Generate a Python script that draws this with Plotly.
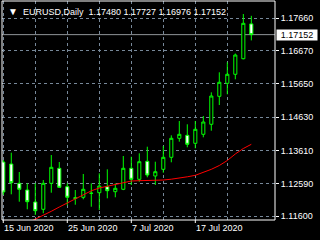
import plotly.graph_objects as go

dates = ["2020-06-15", "2020-06-16", "2020-06-17", "2020-06-18", "2020-06-19",
         "2020-06-22", "2020-06-23", "2020-06-24", "2020-06-25", "2020-06-26",
         "2020-06-29", "2020-06-30", "2020-07-01", "2020-07-02", "2020-07-03",
         "2020-07-06", "2020-07-07", "2020-07-08", "2020-07-09", "2020-07-10",
         "2020-07-13", "2020-07-14", "2020-07-15", "2020-07-16", "2020-07-17",
         "2020-07-20", "2020-07-21", "2020-07-22", "2020-07-23", "2020-07-24",
         "2020-07-27", "2020-07-28"]

opens = [1.13259, 1.13198, 1.12608, 1.12404, 1.12037, 1.11814, 1.12608, 1.13067,
         1.12505, 1.12144, 1.12181, 1.12300, 1.12321, 1.12505, 1.12352, 1.12425,
         1.13067, 1.12731, 1.13281, 1.12832, 1.13036, 1.13403, 1.13984, 1.14075,
         1.13831, 1.14106, 1.14412, 1.15267, 1.15664, 1.15940, 1.16416, 1.17480]
highs = [1.13321, 1.13544, 1.12954, 1.12608, 1.12608, 1.12709, 1.13473, 1.13259,
         1.12608, 1.12404, 1.12893, 1.12608, 1.12914, 1.13036, 1.12608, 1.13443,
         1.13421, 1.13525, 1.13727, 1.13269, 1.13748, 1.14075, 1.14512, 1.14412,
         1.14512, 1.14665, 1.15389, 1.16001, 1.16306, 1.16575, 1.17782, 1.17727]
lows = [1.12251, 1.12272, 1.12046, 1.11814, 1.11640, 1.11692, 1.12321, 1.12465,
        1.11936, 1.11954, 1.12120, 1.11893, 1.11793, 1.12150, 1.12181, 1.12400,
        1.12557, 1.12657, 1.12792, 1.12557, 1.12932, 1.13250, 1.13880, 1.13709,
        1.13678, 1.14014, 1.14216, 1.15001, 1.15328, 1.15787, 1.16398, 1.16976]
closes = [1.12343, 1.12627, 1.12425, 1.12046, 1.11771, 1.12608, 1.13097, 1.12486,
          1.12181, 1.12165, 1.12425, 1.12305, 1.12526, 1.12382, 1.12456, 1.13067,
          1.12731, 1.13269, 1.12862, 1.12963, 1.13403, 1.13984, 1.14106, 1.13800,
          1.14259, 1.14482, 1.15276, 1.15695, 1.15940, 1.16529, 1.17498, 1.17152]

ma = [None, None, None, 1.11395, 1.11508, 1.11624, 1.11753, 1.11884,
      1.12006, 1.12129, 1.12266, 1.12379, 1.12465, 1.12517, 1.12563, 1.12618,
      1.12679, 1.12688, 1.12688, 1.12694, 1.12709, 1.12734, 1.12761, 1.12807,
      1.12853, 1.12939, 1.13036, 1.13152, 1.13305, 1.13504, 1.13672, 1.13800]

y_ticks = [1.11600, 1.12590, 1.13610, 1.14630, 1.15650, 1.16670, 1.17660]
label_dates = ["2020-06-15", "2020-06-25", "2020-07-07", "2020-07-17"]
label_texts = ["15 Jun 2020", "25 Jun 2020", "7 Jul 2020", "17 Jul 2020"]
grid_dates = dates[::4]

FONT = "Liberation Sans, Arial, sans-serif"
GRID = "#778899"

fig = go.Figure()
fig.add_trace(go.Candlestick(
    x=dates, open=opens, high=highs, low=lows, close=closes,
    increasing=dict(line=dict(color="#00ff00", width=1), fillcolor="#000000"),
    decreasing=dict(line=dict(color="#00ff00", width=1), fillcolor="#ffffff"),
    whiskerwidth=0, showlegend=False, hoverinfo="skip",
))
fig.add_trace(go.Scatter(
    x=dates, y=ma, mode="lines", line=dict(color="#ff0000", width=1),
    showlegend=False, hoverinfo="skip", connectgaps=False,
))

shapes = [
    dict(type="line", xref="paper", x0=0, x1=1, yref="y", y0=closes[-1], y1=closes[-1],
         line=dict(color="#8f9499", width=1), layer="between"),
    dict(type="rect", xref="paper", yref="paper", x0=0, x1=1, y0=0, y1=1,
         line=dict(color="#ffffff", width=1), layer="above"),
]
for d in label_dates:
    shapes.append(dict(type="line", xref="x", x0=d, x1=d, yref="paper", y0=0, y1=-3 / 219,
                       line=dict(color="#ffffff", width=1)))

annotations = []
for d, t in zip(label_dates, label_texts):
    annotations.append(dict(x=d, xref="x", y=0, yref="paper", text=t, showarrow=False,
                            xanchor="left", yanchor="top", xshift=-1, yshift=-1,
                            font=dict(family=FONT, size=9, color="#ffffff")))

title = ('<span style="font-size:10px">▼</span>\u00a0 EURUSD,Daily\u00a0\u00a0'
         f"{opens[-1]:.5f} {highs[-1]:.5f} {lows[-1]:.5f} {closes[-1]:.5f}")
annotations.append(dict(x=0, xref="paper", y=1, yref="paper", text=title, showarrow=False,
                        xanchor="left", yanchor="top", xshift=4, yshift=-3,
                        font=dict(family=FONT, size=9, color="#ffffff")))
annotations.append(dict(x=1, xref="paper", y=closes[-1], yref="y", text=f"{closes[-1]:.5f}",
                        showarrow=False, xanchor="left", yanchor="middle", xshift=1,
                        bgcolor="#ffffff", width=40, height=10, borderpad=0,
                        font=dict(family=FONT, size=9, color="#000000")))

fig.update_layout(
    width=320, height=240,
    margin=dict(l=2, r=45, t=1, b=20),
    paper_bgcolor="#000000", plot_bgcolor="#000000",
    showlegend=False,
    boxgap=0.45,
    xaxis=dict(type="category", range=[-0.16, 33.96], rangeslider=dict(visible=False),
               tickvals=grid_dates, showticklabels=False, ticks="",
               showgrid=True, gridcolor=GRID, gridwidth=1, griddash="3px,3px",
               zeroline=False, showline=False),
    yaxis=dict(side="right", range=[1.11487, 1.18180], tickvals=y_ticks,
               ticktext=[f"{v:.5f}" for v in y_ticks],
               ticks="outside", ticklen=3, tickcolor="#ffffff",
               tickfont=dict(family=FONT, size=9, color="#ffffff"),
               showgrid=True, gridcolor=GRID, gridwidth=1, griddash="3px,3px",
               zeroline=False, showline=False),
    shapes=shapes,
    annotations=annotations,
)

fig.write_html("out.html")
